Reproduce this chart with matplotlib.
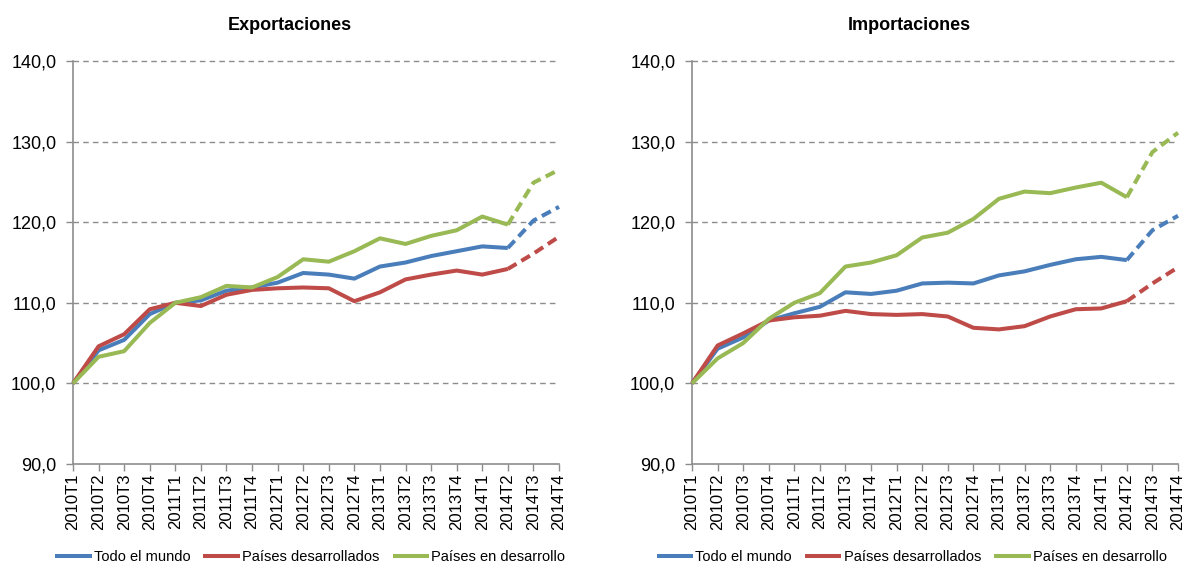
import matplotlib
matplotlib.use("Agg")
import matplotlib.pyplot as plt
from matplotlib.ticker import FuncFormatter, MultipleLocator

plt.rcParams['font.family'] = ['Liberation Sans', 'DejaVu Sans']

# trimestres
periodos = ["2010T1", "2010T2", "2010T3", "2010T4",
            "2011T1", "2011T2", "2011T3", "2011T4",
            "2012T1", "2012T2", "2012T3", "2012T4",
            "2013T1", "2013T2", "2013T3", "2013T4",
            "2014T1", "2014T2", "2014T3", "2014T4"]

# Exportaciones (índice 2010T1 = 100)
exp_mundo = [100.0, 104.1, 105.4, 108.6, 110.0, 110.3, 111.5, 111.9, 112.5, 113.7,
             113.5, 113.0, 114.5, 115.0, 115.8, 116.4, 117.0, 116.8, 120.2, 121.9]
exp_desarrollados = [100.0, 104.6, 106.1, 109.2, 110.0, 109.6, 111.0, 111.6, 111.8, 111.9,
                     111.8, 110.2, 111.3, 112.9, 113.5, 114.0, 113.5, 114.2, 116.1, 118.2]
exp_en_desarrollo = [100.0, 103.3, 104.0, 107.5, 110.0, 110.7, 112.1, 111.9, 113.2, 115.4,
                     115.1, 116.4, 118.0, 117.3, 118.3, 119.0, 120.7, 119.7, 124.9, 126.5]

# Importaciones
imp_mundo = [100.0, 104.3, 105.7, 107.8, 108.7, 109.5, 111.3, 111.1, 111.5, 112.4,
             112.5, 112.4, 113.4, 113.9, 114.7, 115.4, 115.7, 115.3, 119.0, 120.8]
imp_desarrollados = [100.0, 104.7, 106.2, 107.8, 108.2, 108.4, 109.0, 108.6, 108.5, 108.6,
                     108.3, 106.9, 106.7, 107.1, 108.3, 109.2, 109.3, 110.2, 112.4, 114.4]
imp_en_desarrollo = [100.0, 103.1, 105.0, 108.0, 110.0, 111.2, 114.5, 115.0, 115.9, 118.1,
                     118.7, 120.4, 122.9, 123.8, 123.6, 124.3, 124.9, 123.1, 128.7, 131.1]

series_nombres = ["Todo el mundo", "Países desarrollados", "Países en desarrollo"]
colores = ["#4A7EBB", "#BE4B48", "#98B954"]
ultimo_real = 17  # 2014T2: desde aquí, proyección (línea discontinua)

C_GRID = "#8C8C8C"
C_AXIS = "#8C8C8C"

fig = plt.figure(figsize=(11.87, 5.69), dpi=100)
fig.patch.set_facecolor("white")

ax_exp = fig.add_axes([73/1187, 1 - 464/569, 486/1187, 403/569])
ax_imp = fig.add_axes([692/1187, 1 - 464/569, 486/1187, 403/569])


def dibujar(ax, datos, titulo, titulo_x, leyenda_x):
    x = list(range(len(periodos)))
    handles = []
    for vals, color, nombre in zip(datos, colores, series_nombres):
        h, = ax.plot(x[:ultimo_real + 1], vals[:ultimo_real + 1], color=color,
                     lw=2.9, solid_joinstyle="round", solid_capstyle="butt",
                     label=nombre, zorder=3)
        ax.plot(x[ultimo_real:], vals[ultimo_real:], color=color, lw=2.9,
                dashes=(2.5, 1.4), dash_capstyle="butt", zorder=3)
        handles.append(h)

    ax.set_xlim(0, len(periodos) - 1)
    ax.set_ylim(90, 140)
    ax.yaxis.set_major_locator(MultipleLocator(10))
    ax.yaxis.set_major_formatter(FuncFormatter(lambda v, p: f"{v:.1f}".replace(".", ",")))
    ax.set_xticks(x)
    ax.set_xticklabels(periodos, rotation=90, fontsize=12)
    ax.tick_params(axis="y", labelsize=13, length=5, width=1, color=C_AXIS, pad=7)
    ax.tick_params(axis="x", length=5, width=1, color=C_AXIS, pad=2)

    for v in range(100, 141, 10):
        ax.axhline(v, color=C_GRID, lw=1, dashes=(4, 3), zorder=1)

    for lado in ["top", "right"]:
        ax.spines[lado].set_visible(False)
    ax.spines["left"].set_color(C_AXIS)
    ax.spines["bottom"].set_color(C_AXIS)
    ax.spines["left"].set_linewidth(1.2)
    ax.spines["bottom"].set_linewidth(1.2)

    fig.text(titulo_x, 1 - 25/569, titulo, ha="center", va="center",
             fontsize=13, fontweight="bold")

    ax.legend(handles=handles, loc="center", bbox_to_anchor=(leyenda_x, -0.231),
              ncol=3, frameon=False, fontsize=10.5, handlelength=2.5,
              handletextpad=0.15, columnspacing=0.9)

    for ln in ax.lines:
        ln.set_clip_on(False)


dibujar(ax_exp, [exp_mundo, exp_desarrollados, exp_en_desarrollo],
        "Exportaciones", 290/1187, 0.488)
dibujar(ax_imp, [imp_mundo, imp_desarrollados, imp_en_desarrollo],
        "Importaciones", 909/1187, 0.452)

fig.savefig("out.png", dpi=100, facecolor="white")
plt.close(fig)
